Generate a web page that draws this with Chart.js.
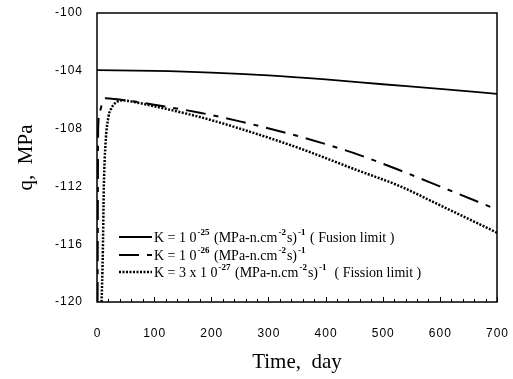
<!DOCTYPE html>
<html>
<head>
<meta charset="utf-8">
<script src="https://cdn.jsdelivr.net/npm/chart.js@4.4.0/dist/chart.umd.min.js"></script>
<style>
  html, body { margin: 0; padding: 0; background: #fff; }
</style>
</head>
<body>
<canvas id="myChart" width="513" height="379"></canvas>
<script>
// values (q in MPa vs time in days)
const fusionDays = [0, 100, 200, 300, 400, 500, 600, 700];
const fusionQ = [-103.95, -104.0, -104.12, -104.32, -104.6, -104.93, -105.25, -105.6];

const midDays = [1, 2, 5, 10, 16, 30, 60, 100, 180, 250, 350, 450, 531, 600, 700];
const midQ = [-120, -108, -106.8, -106.1, -105.9, -105.95, -106.1, -106.35, -106.9, -107.5, -108.5, -109.7, -110.9, -112.0, -113.6];

const fissionDays = [8, 10, 12, 15, 20, 25, 35, 45, 70, 100, 180, 250, 350, 450, 531, 600, 700];
const fissionQ = [-120, -117, -112, -109, -107.2, -106.6, -106.15, -106.05, -106.2, -106.45, -107.2, -108.0, -109.3, -110.8, -112.0, -113.3, -115.2];

const legendLabels = [
    'K = 1 0^{-25} (MPa-n.cm^{-2}s)^{-1} ( Fusion limit )',
    'K = 1 0^{-26} (MPa-n.cm^{-2}s)^{-1}',
    'K = 3 x 1 0^{-27} (MPa-n.cm^{-2}s)^{-1}  ( Fission limit )'
];

const xTicks = [0, 100, 200, 300, 400, 500, 600, 700];
const yTicks = [-120, -116, -112, -108, -104, -100];

function toPoints(xs, ys) {
    return xs.map((x, i) => ({ x: x, y: ys[i] }));
}

// spaced-out digits like the original print
function spaced(v) {
    return String(v).split('').join('\u200A');
}

// frame + inward minor ticks on the time axis
const framePlugin = {
    id: 'frame',
    afterDatasetsDraw(chart) {
        const ctx = chart.ctx;
        const a = chart.chartArea;
        const xs = chart.scales.x;
        ctx.save();
        ctx.strokeStyle = '#000';
        ctx.lineWidth = 1.5;
        ctx.strokeRect(a.left, a.top, a.right - a.left, a.bottom - a.top);
        ctx.lineWidth = 1;
        for (let d = 0; d <= 700; d += 20) {
            const px = Math.round(xs.getPixelForValue(d)) + 0.5;
            const len = d % 100 === 0 ? 5 : 3;
            ctx.beginPath();
            ctx.moveTo(px, a.bottom);
            ctx.lineTo(px, a.bottom - len);
            ctx.stroke();
        }
        ctx.restore();
    }
};

// legend with superscripts, drawn inside the plot
const legendPlugin = {
    id: 'supLegend',
    afterDraw(chart) {
        const ctx = chart.ctx;
        const x0 = 119, x1 = 152, rows = [237, 255, 272];
        ctx.save();
        chart.data.datasets.forEach((ds, i) => {
            const y = rows[i];
            ctx.strokeStyle = '#000';
            ctx.lineWidth = ds.borderWidth;
            ctx.setLineDash(ds.borderDash || []);
            ctx.beginPath();
            ctx.moveTo(x0, y);
            ctx.lineTo(x1, y);
            ctx.stroke();
            ctx.setLineDash([]);
            drawSupText(ctx, legendLabels[i], x1 + 2, y + 5);
        });
        ctx.restore();
    }
};

function drawSupText(ctx, text, x, y) {
    const parts = text.split(/(\^\{[^}]*\})/);
    ctx.fillStyle = '#000';
    ctx.textBaseline = 'alphabetic';
    ctx.textAlign = 'left';
    parts.forEach(p => {
        if (!p) return;
        if (p.startsWith('^{')) {
            const s = p.slice(2, -1);
            ctx.font = 'bold 9px "Liberation Serif"';
            ctx.fillText(s, x + 1, y - 7);
            x += ctx.measureText(s).width + 2;
        } else {
            ctx.font = '14px "Liberation Serif"';
            ctx.fillText(p, x, y);
            x += ctx.measureText(p).width;
        }
    });
}

const ctx = document.getElementById('myChart').getContext('2d');
const chart = new Chart(ctx, {
    type: 'scatter',
    data: {
        datasets: [
            {
                label: 'Fusion limit',
                data: toPoints(fusionDays, fusionQ),
                borderColor: '#000',
                borderWidth: 1.8,
                showLine: true,
                pointRadius: 0,
                cubicInterpolationMode: 'monotone'
            },
            {
                label: 'K = 1e-26',
                data: toPoints(midDays, midQ),
                borderColor: '#000',
                borderWidth: 2,
                borderDash: [20, 8, 5, 8],
                showLine: true,
                pointRadius: 0,
                cubicInterpolationMode: 'monotone'
            },
            {
                label: 'Fission limit',
                data: toPoints(fissionDays, fissionQ),
                borderColor: '#000',
                borderWidth: 2.5,
                borderDash: [2, 1.5],
                showLine: true,
                pointRadius: 0,
                cubicInterpolationMode: 'monotone'
            }
        ]
    },
    options: {
        responsive: false,
        animation: false,
        layout: { padding: { top: 13, right: 16, left: 0, bottom: 0 } },
        plugins: {
            legend: { display: false },
            tooltip: { enabled: false }
        },
        scales: {
            x: {
                type: 'linear',
                min: 0,
                max: 700,
                afterBuildTicks: (s) => { s.ticks = xTicks.map(v => ({ value: v })); },
                afterFit: (s) => {
                    s.height = 77;
                    s.paddingLeft = 0;
                    s.paddingRight = 0;
                },
                grid: { display: false, drawTicks: false },
                border: { display: false },
                ticks: {
                    color: '#000',
                    padding: 24,
                    maxRotation: 0,
                    callback: spaced,
                    font: { family: '"Liberation Sans"', size: 12 }
                },
                title: {
                    display: true,
                    text: 'Time,  day',
                    color: '#000',
                    font: { family: '"Liberation Serif"', size: 21 },
                    padding: { top: 0, bottom: 4 }
                }
            },
            y: {
                min: -120,
                max: -100,
                afterBuildTicks: (s) => { s.ticks = yTicks.map(v => ({ value: v })); },
                afterFit: (s) => {
                    s.width = 97;
                    s.paddingTop = 0;
                    s.paddingBottom = 0;
                },
                grid: { display: false, drawTicks: false },
                border: { display: false },
                ticks: {
                    color: '#000',
                    padding: 15,
                    callback: spaced,
                    font: { family: '"Liberation Sans"', size: 12 }
                },
                title: {
                    display: true,
                    text: 'q,  MPa',
                    color: '#000',
                    font: { family: '"Liberation Serif"', size: 21 },
                    padding: { top: 14, bottom: 0 }
                }
            }
        }
    },
    plugins: [framePlugin, legendPlugin]
});
</script>
</body>
</html>
